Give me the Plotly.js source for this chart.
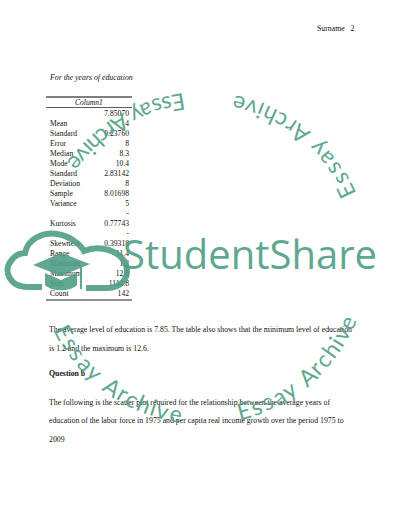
<!DOCTYPE html>
<html>
<head>
<meta charset="utf-8">
<script src="https://cdn.plot.ly/plotly-3.0.1.min.js"></script>
<style>
  html, body { margin: 0; padding: 0; background: #fff; }
  #page { width: 400px; height: 517px; }
</style>
</head>
<body>
<div id="page"></div>
<script>
// summary statistics table (as wrapped in the document)
var statLabels = ['', 'Mean', 'Standard', 'Error', 'Median', 'Mode', 'Standard', 'Deviation',
                  'Sample', 'Variance', '', 'Kurtosis', '', 'Skewness', 'Range', 'Minimum',
                  'Maximum', 'Sum', 'Count'];
var statValues = ['7.85070', '4', '0.23760', '8', '8.3', '10.4', '2.83142', '8',
                  '8.01698', '5', '-', '0.77743', '-', '0.39318', '11.4', '1.2',
                  '12.6', '1114.8', '142'];
var tableHeader = 'Column1';

var bodyLines = [
  'The average level of education is 7.85. The table also shows that the minimum level of education',
  'is 1.2 and the maximum is 12.6.',
  '<b>Question b</b>',
  'The following is the scatter plot required for the relationship between the average years of',
  'education of the labor force in 1975 and per capita real income growth over the period 1975 to',
  '2009'
];

var serif = 'Liberation Serif, Times New Roman, serif';
var ink = '#111';
var green = '#4f9e86';

// rows are single spaced, 10px apart
var rowY = statLabels.map(function (d, i) { return 114 + i * 10; });

var traces = [
  {
    x: statLabels.map(function () { return 50; }), y: rowY, text: statLabels,
    mode: 'text', textposition: 'middle right', hoverinfo: 'skip',
    textfont: {family: serif, size: 7.6, color: ink}
  },
  {
    x: statValues.map(function () { return 129; }), y: rowY, text: statValues,
    mode: 'text', textposition: 'middle left', hoverinfo: 'skip',
    textfont: {family: serif, size: 7.6, color: ink}
  }
];

function note(x, y, text, opts) {
  var a = {x: x, y: y, xref: 'x', yref: 'y', text: text, showarrow: false,
           xanchor: 'left', yanchor: 'middle',
           font: {family: serif, size: 7.8, color: ink}};
  for (var k in opts) a[k] = opts[k];
  return a;
}

var annotations = [
  note(315, 28, 'Surname   2'),
  note(47, 77, '<i>For the years of education</i>'),
  note(89, 102.5, '<i>' + tableHeader + '</i>', {xanchor: 'center', font: {family: serif, size: 7.6, color: ink}})
];
// double spaced body text
var bodyY = [329, 348, 373, 402, 420, 439];
bodyLines.forEach(function (t, i) { annotations.push(note(47, bodyY[i], t)); });

// watermark: StudentShare word mark
annotations.push({x: 121, y: 253, xref: 'x', yref: 'y', text: 'StudentShare', showarrow: false,
  xanchor: 'left', yanchor: 'middle', opacity: 0.9,
  font: {family: 'Open Sans, sans-serif', size: 40, color: green}});

// watermark: "Essay Archive" running round a circle, letter tops toward the centre
var ringCx = 203, ringCy = 258, ringR = 157;
var ringGroups = [[25, 77], [99, 143], [208, 260], [285, 336]];
var letterW = {E: 1.1, s: 0.85, a: 0.95, y: 0.9, ' ': 0.6, A: 1.15, r: 0.65, c: 0.9, h: 0.95, i: 0.45, v: 0.9, e: 0.95};
var phrase = 'Essay Archive'.split('');
ringGroups.forEach(function (g) {
  var centers = [], acc = 0;
  phrase.forEach(function (ch) { var w = letterW[ch]; centers.push(acc + w / 2); acc += w; });
  var c0 = centers[0], c1 = centers[centers.length - 1];
  phrase.forEach(function (ch, i) {
    if (ch === ' ') return;
    var deg = g[0] + (centers[i] - c0) / (c1 - c0) * (g[1] - g[0]);
    var th = deg * Math.PI / 180;
    var ang = 270 - deg;
    while (ang > 180) ang -= 360;
    while (ang <= -180) ang += 360;
    annotations.push({x: ringCx + ringR * Math.cos(th), y: ringCy - ringR * Math.sin(th),
      xref: 'x', yref: 'y', text: ch, showarrow: false, textangle: ang,
      xanchor: 'center', yanchor: 'middle', opacity: 0.9,
      font: {family: 'Lato, sans-serif', size: 23, color: green}});
  });
});

var shapes = [
  // table rules
  {type: 'line', x0: 46, x1: 132, y0: 97, y1: 97, line: {color: '#555', width: 1.4}},
  {type: 'line', x0: 46, x1: 132, y0: 107.5, y1: 107.5, line: {color: '#333', width: 0.8}},
  {type: 'line', x0: 46, x1: 132, y0: 300, y1: 300, line: {color: '#222', width: 1.2}},
  // cloud logo
  {type: 'path', layer: 'above', opacity: 0.9, fillcolor: 'rgba(0,0,0,0)', line: {color: green, width: 6},
   path: 'M 42,287 L 28,287 C 9,287 3,270 11,261 C 15,255 20,253 25,253 ' +
         'C 28,238 44,232 57,234 C 70,236 80,244 84,251 ' +
         'C 100,244 121,251 126,265 C 130,279 120,288 107,288 L 86,288'},
  {type: 'path', layer: 'above', opacity: 0.9, fillcolor: green, line: {width: 0},
   path: 'M 33,265 L 61,253 L 90,264 L 61,276 Z'},
  {type: 'path', layer: 'above', opacity: 0.9, fillcolor: green, line: {width: 0},
   path: 'M 45,273 L 61,280 L 77,273 L 77,285 C 70,292 52,292 45,285 Z'},
  {type: 'line', layer: 'above', opacity: 0.9, x0: 81, x1: 81, y0: 267, y1: 289, line: {color: green, width: 2}}
];

var layout = {
  width: 400, height: 517,
  margin: {l: 0, r: 0, t: 0, b: 0},
  paper_bgcolor: '#fff', plot_bgcolor: '#fff',
  showlegend: false,
  xaxis: {range: [0, 400], visible: false, fixedrange: true},
  yaxis: {range: [517, 0], visible: false, fixedrange: true},
  annotations: annotations,
  shapes: shapes
};

Plotly.newPlot('page', traces, layout, {staticPlot: true, displayModeBar: false});
</script>
</body>
</html>
